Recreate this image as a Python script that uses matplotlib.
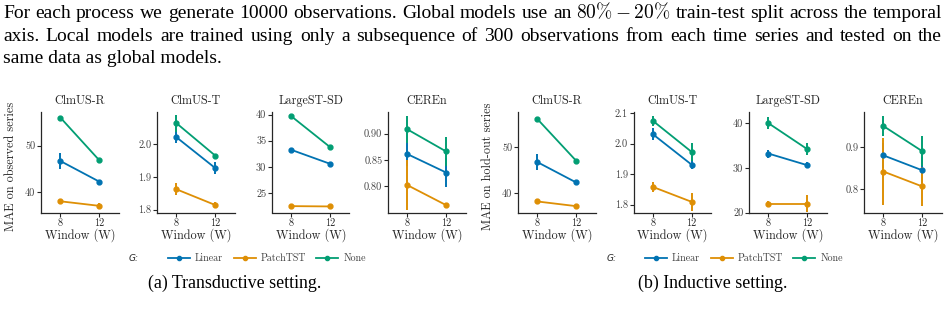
import matplotlib
matplotlib.use("Agg")
import matplotlib.pyplot as plt
from matplotlib.lines import Line2D

# ---------------- data ----------------
datasets = ["ClmUS-R", "ClmUS-T", "LargeST-SD", "CEREn"]
windows = ["8", "12"]
methods = ["Linear", "PatchTST", "None"]
colors = ["#0173B2", "#DE8F05", "#029E73"]

# (a) transductive setting: MAE on observed series
trans_linear = [[46.7, 42.3], [2.021, 1.927], [33.25, 30.58], [0.861, 0.826]]
trans_linear_err = [[1.8, 0.3], [0.017, 0.019], [0.3, 0.3], [0.022, 0.027]]
trans_patchtst = [[38.07, 37.1], [1.862, 1.814], [22.48, 22.42], [0.802, 0.764]]
trans_patchtst_err = [[0.5, 0.55], [0.018, 0.009], [0.35, 0.35], [0.048, 0.004]]
trans_none = [[56.0, 46.9], [2.064, 1.965], [39.68, 33.77], [0.908, 0.866]]
trans_none_err = [[0.25, 0.25], [0.026, 0.006], [0.25, 0.3], [0.025, 0.027]]

# (b) inductive setting: MAE on hold-out series
ind_linear = [[46.76, 42.28], [2.031, 1.931], [33.2, 30.6], [0.880, 0.845]]
ind_linear_err = [[1.7, 0.35], [0.02, 0.014], [0.9, 0.7], [0.03, 0.03]]
ind_patchtst = [[38.09, 37.06], [1.858, 1.809], [22.0, 22.0], [0.842, 0.807]]
ind_patchtst_err = [[0.6, 0.3], [0.016, 0.03], [0.5, 1.9], [0.079, 0.045]]
ind_none = [[56.25, 47.06], [2.075, 1.973], [40.0, 34.2], [0.949, 0.890]]
ind_none_err = [[0.3, 0.3], [0.016, 0.029], [1.3, 1.3], [0.024, 0.035]]

trans_ylim = [(35.67, 57.2), (1.791, 2.098), (21.26, 40.5), (0.75, 0.941)]
trans_yticks = [[40, 50], [1.8, 1.9, 2.0], [25, 30, 35, 40], [0.80, 0.85, 0.90]]
trans_yticklabels = [["40", "50"], ["1.8", "1.9", "2.0"], ["25", "30", "35", "40"],
                     ["0.80", "0.85", "0.90"]]
ind_ylim = [(35.66, 57.8), (1.774, 2.104), (20.0, 42.5), (0.7456, 0.982)]
ind_yticks = [[40, 50], [1.8, 1.9, 2.0, 2.1], [20, 30, 40], [0.8, 0.9]]
ind_yticklabels = [["40", "50"], ["1.8", "1.9", "2.0", "2.1"], ["20", "30", "40"],
                   ["0.8", "0.9"]]

paragraph_lines = [
    ["For", "each", "process", "we", "generate", "10000", "observations.", "Global",
     "models", "use", "an", r"$80\% - 20\%$", "train-test", "split", "across", "the",
     "temporal"],
    ["axis.", "Local", "models", "are", "trained", "using", "only", "a", "subsequence",
     "of", "300", "observations", "from", "each", "time", "series", "and", "tested",
     "on", "the"],
    ["same data as global models."],
]
captions = ["(a) Transductive setting.", "(b) Inductive setting."]
ylabels = ["MAE on observed series", "MAE on hold-out series"]

# ---------------- style ----------------
plt.rcParams["mathtext.fontset"] = "cm"
CM = "cmr10"
TXT = "Liberation Serif"
INK = "#262626"

W, H, DPI = 948, 310, 100
fig = plt.figure(figsize=(W / DPI, H / DPI), dpi=DPI)
fig.patch.set_facecolor("white")


def fx(px):
    return px / W


def fy(py):
    return 1 - py / H


lefts = [41, 157, 272, 388, 518, 633.5, 749, 864]
ax_w = 77.5
top_px, bot_px = 112, 212.5

groups = [
    (trans_linear, trans_linear_err, trans_patchtst, trans_patchtst_err, trans_none,
     trans_none_err, trans_ylim, trans_yticks, trans_yticklabels),
    (ind_linear, ind_linear_err, ind_patchtst, ind_patchtst_err, ind_none,
     ind_none_err, ind_ylim, ind_yticks, ind_yticklabels),
]

x = list(range(len(windows)))
for g, grp in enumerate(groups):
    lin, lin_e, pt, pt_e, no, no_e, ylims, yt, ytl = grp
    series = [(lin, lin_e), (pt, pt_e), (no, no_e)]
    for d, name in enumerate(datasets):
        left = lefts[g * 4 + d]
        ax = fig.add_axes([fx(left), fy(bot_px), ax_w / W, (bot_px - top_px) / H])
        for m, (vals, errs) in enumerate(series):
            v = vals[d]
            e = errs[d]
            ax.vlines(x, [v[i] - e[i] for i in x], [v[i] + e[i] for i in x],
                      color=colors[m], lw=1.4, zorder=2 + m * 0.1)
            ax.plot(x, v, color=colors[m], lw=1.3, marker="o", ms=3.5,
                    zorder=3 + m * 0.1)
        ax.set_xlim(-0.5, 1.5)
        ax.set_ylim(*ylims[d])
        ax.set_xticks(x)
        ax.set_xticklabels(windows, fontfamily=CM, fontsize=7.4, color=INK)
        ax.set_yticks(yt[d])
        ax.set_yticklabels(ytl[d], fontfamily=CM, fontsize=7.4, color="#404040")
        for s in ["top", "right"]:
            ax.spines[s].set_visible(False)
        for s in ["left", "bottom"]:
            ax.spines[s].set_color(INK)
            ax.spines[s].set_linewidth(0.9)
        ax.tick_params(length=2.6, width=0.8, color=INK, pad=1.5)
        ax.set_title(name, fontfamily=CM, fontsize=8.7, color=INK, pad=6)
        ax.set_xlabel("Window (W)", fontfamily=CM, fontsize=8.8, color=INK,
                      labelpad=0.5)
        if d == 0:
            ax.set_ylabel(ylabels[g], fontfamily=CM, fontsize=8.8, color=INK)
            ax.yaxis.set_label_coords(-0.31, 0.46)
        ax.patch.set_alpha(0)

# ---------------- legends ----------------
handles = [Line2D([], [], color=c, lw=1.3, marker="o", ms=3.0) for c in colors]
leg_x = [168, 645]
g_x = [129, 607]
leg_y = 258.3
for g in range(2):
    fig.text(fx(g_x[g]), fy(leg_y), "G:", fontfamily="DejaVu Sans", style="italic",
             fontsize=6.5, color=INK, va="center", ha="left")
    leg = fig.legend(handles, methods, loc="center left",
                     bbox_to_anchor=(fx(leg_x[g]), fy(leg_y)), ncol=3, frameon=False,
                     handlelength=2.2, handletextpad=0.5, columnspacing=1.05,
                     borderpad=0, borderaxespad=0,
                     prop={"family": CM, "size": 7.2})
    for t in leg.get_texts():
        t.set_color("#404040")

# ---------------- captions ----------------
cap_cx = [234.5, 712.5]
for g in range(2):
    fig.text(fx(cap_cx[g]), fy(288), captions[g], fontfamily=TXT, fontsize=12.9,
             color="black", ha="center", va="baseline")

# ---------------- justified paragraph ----------------
renderer = fig.canvas.get_renderer()
x0, x1 = 3, 942
baselines = [18.3, 41.0, 63.3]
PSIZE = 14.0
for li, words in enumerate(paragraph_lines):
    if li == len(paragraph_lines) - 1:
        fig.text(fx(x0), fy(baselines[li]), words[0], fontfamily=TXT,
                 fontsize=PSIZE, color="black", ha="left", va="baseline")
        continue
    texts = [fig.text(0, fy(baselines[li]), w_, fontfamily=TXT, fontsize=PSIZE,
                      color="black", ha="left", va="baseline") for w_ in words]
    widths = [t.get_window_extent(renderer).width for t in texts]
    gap = (x1 - x0 - sum(widths)) / (len(words) - 1)
    cur = x0
    for t, wd in zip(texts, widths):
        t.set_x(fx(cur))
        cur += wd + gap

fig.savefig("out.png", dpi=DPI, facecolor="white")
